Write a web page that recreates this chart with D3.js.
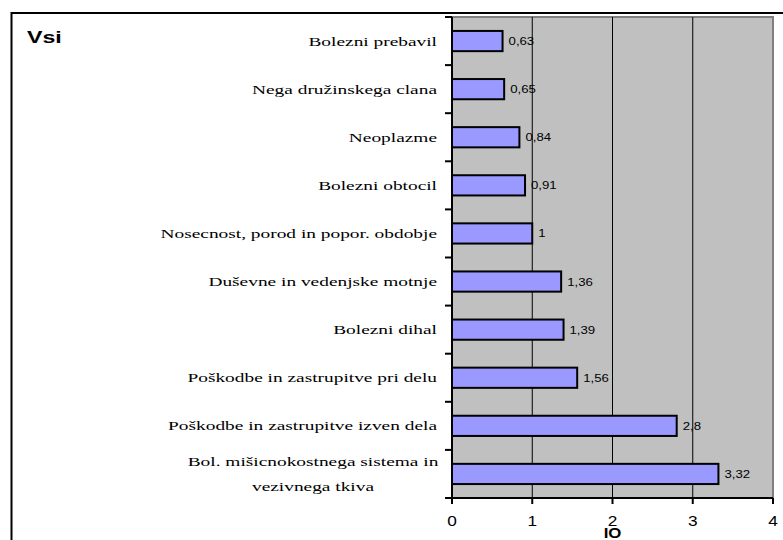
<!DOCTYPE html>
<html><head><meta charset="utf-8">
<script src="https://cdn.jsdelivr.net/npm/d3@7"></script>
<style>body{margin:0;background:#fff}svg{display:block}
.serif{font-family:"Liberation Serif","Times New Roman",Times,serif}
.sans{font-family:"Liberation Sans",Arial,Helvetica,sans-serif}
</style>
</head><body>
<script>
const categories = [
  ["Bolezni prebavil"],
  ["Nega družinskega clana"],
  ["Neoplazme"],
  ["Bolezni obtocil"],
  ["Nosecnost, porod in popor. obdobje"],
  ["Duševne in vedenjske motnje"],
  ["Bolezni dihal"],
  ["Poškodbe in zastrupitve pri delu"],
  ["Poškodbe in zastrupitve izven dela"],
  ["Bol. mišicnokostnega sistema in", "vezivnega tkiva"]
];
const values = [0.63, 0.65, 0.84, 0.91, 1, 1.36, 1.39, 1.56, 2.8, 3.32];
const valueLabels = ["0,63", "0,65", "0,84", "0,91", "1", "1,36", "1,39", "1,56", "2,8", "3,32"];
const xTicks = [0, 1, 2, 3, 4];
const title = "Vsi";
const xTitle = "IO";

const W = 783, H = 540;
const svg = d3.select("body").append("svg").attr("width", W).attr("height", H);

// outer frame (only top and left visible)
svg.append("rect").attr("x", 11.5).attr("y", 13).attr("width", 800).attr("height", 600)
  .attr("fill", "#fff").attr("stroke", "#000").attr("stroke-width", 2);

const m = {left: 452, right: 773, top: 17, bottom: 498};
const x = d3.scaleLinear().domain([0, 4]).range([m.left, m.right]);
const y = d3.scaleBand().domain(d3.range(categories.length)).range([m.top, m.bottom]).paddingInner(0.58).paddingOuter(0.29);
const yb = d3.scaleBand().domain(d3.range(categories.length)).range([m.top, m.bottom]);

// plot background
svg.append("rect").attr("x", m.left).attr("y", m.top).attr("width", m.right - m.left).attr("height", m.bottom - m.top)
  .attr("fill", "#c0c0c0").attr("stroke", "#808080").attr("stroke-width", 2);

// gridlines
svg.append("g").selectAll("line").data(xTicks.filter(d => d > 0 && d < 4)).join("line")
  .attr("x1", d => x(d)).attr("x2", d => x(d)).attr("y1", m.top).attr("y2", m.bottom)
  .attr("stroke", "#000").attr("stroke-width", 1);

// bars
svg.append("g").selectAll("rect").data(values).join("rect")
  .attr("x", x(0)).attr("y", (d, i) => y(i)).attr("width", d => x(d) - x(0)).attr("height", y.bandwidth())
  .attr("fill", "#9999ff").attr("stroke", "#000").attr("stroke-width", 2);

// value labels
svg.append("g").selectAll("text").data(values).join("text").attr("class", "sans")
  .attr("transform", (d, i) => `translate(${x(d) + 6},${y(i) + y.bandwidth() / 2 + 4}) scale(1.2,1)`)
  .style("font-size", "11px")
  .text((d, i) => valueLabels[i]);

// y axis
const yAxis = svg.append("g").attr("transform", `translate(${m.left},0)`);
yAxis.append("line").attr("x1", 0).attr("x2", 0).attr("y1", m.top).attr("y2", m.bottom).attr("stroke", "#000").attr("stroke-width", 2);
yAxis.selectAll("line.t").data(d3.range(categories.length + 1)).join("line").attr("class", "t")
  .attr("x1", -7).attr("x2", 0)
  .attr("y1", i => m.top + i * yb.step()).attr("y2", i => m.top + i * yb.step())
  .attr("stroke", "#000").attr("stroke-width", 2);

// category labels
const catG = svg.append("g");
categories.forEach((lines, i) => {
  const cy = yb(i) + yb.bandwidth() / 2;
  if (lines.length === 1) {
    catG.append("text").attr("class", "serif")
      .attr("transform", `translate(437,${cy + 4.5}) scale(1.55,1)`)
      .attr("text-anchor", "end")
      .style("font-size", "12.5px")
      .text(lines[0]);
  } else {
    lines.forEach((t, k) => {
      catG.append("text").attr("class", "serif")
        .attr("transform", `translate(313,${cy + 4.5 + (k - 0.5) * 25}) scale(1.55,1)`)
        .attr("text-anchor", "middle")
        .style("font-size", "12.5px")
        .text(t);
    });
  }
});

// x axis
const xAxis = svg.append("g");
xAxis.append("line").attr("x1", m.left).attr("x2", m.right).attr("y1", m.bottom).attr("y2", m.bottom).attr("stroke", "#000").attr("stroke-width", 2);
xAxis.selectAll("line.t").data(xTicks).join("line").attr("class", "t")
  .attr("x1", d => x(d)).attr("x2", d => x(d)).attr("y1", m.bottom).attr("y2", m.bottom + 6)
  .attr("stroke", "#000").attr("stroke-width", 2);
xAxis.selectAll("text").data(xTicks).join("text").attr("class", "sans")
  .attr("transform", d => `translate(${x(d)},526) scale(1.15,1)`).attr("text-anchor", "middle")
  .style("font-size", "15px")
  .text(d => d);

svg.append("text").attr("class", "sans").attr("transform", `translate(${x(2)},538) scale(1.2,1)`).attr("text-anchor", "middle")
  .style("font-size", "14px").style("font-weight", "bold")
  .text(xTitle);

svg.append("text").attr("class", "sans").attr("transform", "translate(27,43) scale(1.45,1)")
  .style("font-size", "16px").style("font-weight", "bold")
  .text(title);
</script>
</body></html>
